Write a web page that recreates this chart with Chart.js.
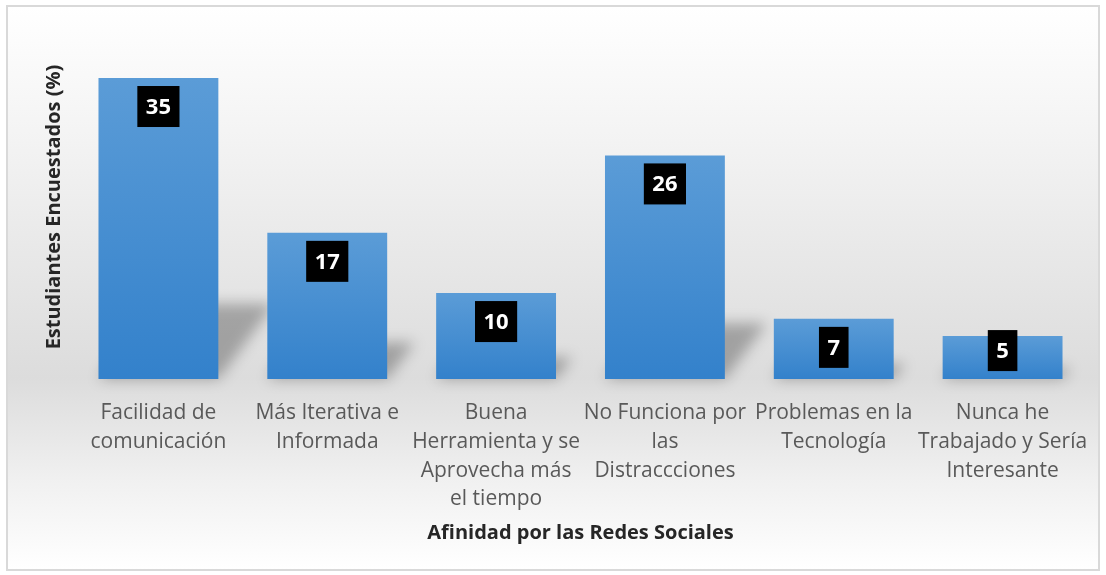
<!DOCTYPE html>
<html>
<head>
<meta charset="utf-8">
<script src="https://cdn.jsdelivr.net/npm/chart.js@4.4.1/dist/chart.umd.min.js"></script>
<style>
  html, body { margin: 0; padding: 0; background: #fff; }
  #wrap {
    position: absolute; left: 6px; top: 5px; width: 1090px; height: 562px;
    border: 2px solid #d9d9d9;
    background: linear-gradient(to bottom, #ffffff 0%, #f4f4f4 22%, #dcdcdc 66%, #f0f0f0 84%, #ffffff 100%);
  }
  canvas { display: block; }
</style>
</head>
<body>
<div id="wrap"><canvas id="chart" width="1090" height="562"></canvas></div>
<script>
// categories and values
const categories = [
    ['Facilidad de', 'comunicación'],
    ['Más Iterativa e', 'Informada'],
    ['Buena', 'Herramienta y se', 'Aprovecha más', 'el tiempo'],
    ['No Funciona por', 'las', 'Distraccciones'],
    ['Problemas en la', 'Tecnología'],
    ['Nunca he', 'Trabajado y Sería', 'Interesante']
];
const percentages = [35, 17, 10, 26, 7, 5];

const xTitle = 'Afinidad por las Redes Sociales';
const yTitle = 'Estudiantes Encuestados (%)';

const fontFamily = "'Open Sans', 'Noto Sans', sans-serif";

// soft skewed shadow on the "floor" behind each bar
const floorShadow = {
    id: 'floorShadow',
    beforeDatasetsDraw(chart) {
        const ctx = chart.ctx;
        const meta = chart.getDatasetMeta(0);
        ctx.save();
        ctx.filter = 'blur(7px)';
        ctx.fillStyle = 'rgba(0,0,0,0.28)';
        meta.data.forEach(bar => {
            const left = bar.x - bar.width / 2;
            const right = bar.x + bar.width / 2;
            const base = bar.base;
            const h = (base - bar.y) * 0.25;
            const skew = h * 0.75;
            ctx.beginPath();
            ctx.moveTo(left, base);
            ctx.lineTo(right, base);
            ctx.lineTo(right + skew, base - h);
            ctx.lineTo(left + skew, base - h);
            ctx.closePath();
            ctx.fill();
        });
        ctx.restore();
    }
};

// black boxes with the value near the top of each bar
const valueBoxes = {
    id: 'valueBoxes',
    afterDatasetsDraw(chart) {
        const ctx = chart.ctx;
        const meta = chart.getDatasetMeta(0);
        ctx.save();
        ctx.font = 'bold 22px ' + fontFamily;
        ctx.textAlign = 'center';
        ctx.textBaseline = 'middle';
        meta.data.forEach((bar, i) => {
            const txt = String(percentages[i]);
            const w = ctx.measureText(txt).width + 17;
            const h = 41;
            // short bars: keep the box clear of the baseline
            const top = Math.min(bar.y + 8, bar.base - 8 - h);
            ctx.fillStyle = '#000';
            ctx.fillRect(bar.x - w / 2, top, w, h);
            ctx.fillStyle = '#fff';
            ctx.fillText(txt, bar.x, top + h / 2 + 1);
        });
        ctx.restore();
    }
};

function barGradient(context) {
    const chart = context.chart;
    const area = chart.chartArea;
    if (!area || context.type !== 'data') return '#4a90d4';
    const y = chart.scales.y;
    const top = y.getPixelForValue(context.raw);
    const bottom = y.getPixelForValue(0);
    const g = chart.ctx.createLinearGradient(0, top, 0, bottom);
    g.addColorStop(0, '#5b9cd7');
    g.addColorStop(1, '#3381cb');
    return g;
}

new Chart(document.getElementById('chart'), {
    type: 'bar',
    data: {
        labels: categories,
        datasets: [{
            data: percentages,
            backgroundColor: barGradient,
            borderWidth: 0,
            categoryPercentage: 0.71,
            barPercentage: 1
        }]
    },
    options: {
        responsive: false,
        animation: false,
        layout: { padding: { left: 34, right: 11, top: 28, bottom: 22 } },
        plugins: {
            legend: { display: false },
            tooltip: { enabled: false }
        },
        scales: {
            x: {
                grid: { display: false },
                border: { display: false },
                ticks: {
                    color: '#595959',
                    font: { family: fontFamily, size: 21, lineHeight: 1.38 },
                    padding: 11,
                    maxRotation: 0,
                    autoSkip: false
                },
                // long labels should not shrink the plot sideways
                afterFit(scale) {
                    scale.paddingLeft = 0;
                    scale.paddingRight = 0;
                },
                title: {
                    display: true,
                    text: xTitle,
                    color: '#262626',
                    font: { family: fontFamily, size: 20, weight: 'bold' },
                    padding: { top: -4, bottom: 2 }
                }
            },
            y: {
                min: 0,
                max: 40,
                grid: { display: false },
                border: { display: false },
                ticks: { display: false },
                title: {
                    display: true,
                    text: yTitle,
                    color: '#262626',
                    font: { family: fontFamily, size: 20, weight: 'bold' },
                    padding: { top: 0, bottom: 0 }
                }
            }
        }
    },
    plugins: [floorShadow, valueBoxes]
});
</script>
</body>
</html>
